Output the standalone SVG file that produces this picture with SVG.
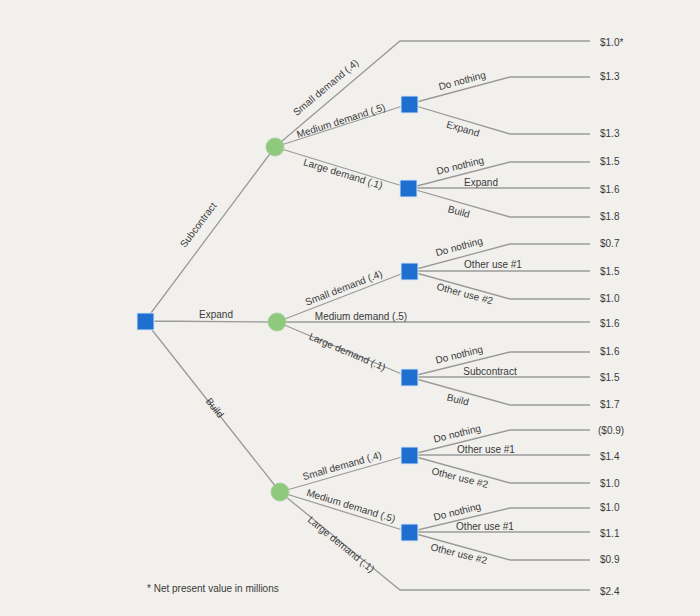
<svg xmlns="http://www.w3.org/2000/svg" width="700" height="616" viewBox="0 0 700 616">
<style>
.l{stroke:#9a9a9a;stroke-width:1.3;fill:none}
.t{font-family:"Liberation Sans",Arial,sans-serif;font-size:10px;fill:#3a3a3a;text-anchor:middle}
.v{font-family:"Liberation Sans",Arial,sans-serif;font-size:10px;fill:#3a3a3a}
.d{fill:#1f6fd1;stroke:#d8e6f7;stroke-width:1}
.c{fill:#8ec97e;stroke:#a9cf9d;stroke-width:1}
</style>
<rect width="700" height="616" fill="#f1f0ed"/>
<g id="connectors">
<path class="l" d="M145 321 L275 147 M145 321 L277 322 M145 321 L280 492"/>
<path class="l" d="M275 147 L400 41 H590 M275 147 L409 104 M275 147 L409 188"/>
<path class="l" d="M409 104 L510 77 H590 M409 104 L510 134 H590"/>
<path class="l" d="M409 188 L510 162 H590 M409 188 H590 M409 188 L510 217 H590"/>
<path class="l" d="M277 322 L409 271 M277 322 H590 M277 322 L409 377"/>
<path class="l" d="M409 271 L510 244 H590 M409 271 H590 M409 271 L510 299 H590"/>
<path class="l" d="M409 377 L510 352 H590 M409 377 H590 M409 377 L510 405 H590"/>
<path class="l" d="M280 492 L409 455 M280 492 L409 532 M280 492 L400 590 H590"/>
<path class="l" d="M409 455 L510 430 H590 M409 455 H590 M409 455 L510 483 H590"/>
<path class="l" d="M409 532 L510 508 H590 M409 532 H590 M409 532 L510 560 H590"/>
</g>
<g id="labels">
<text class="t" transform="translate(201,227) rotate(-53)">Subcontract</text>
<text class="t" x="216" y="318">Expand</text>
<text class="t" transform="translate(212,410) rotate(52)">Build</text>
<text class="t" transform="translate(328,90) rotate(-40)">Small demand (.4)</text>
<text class="t" transform="translate(342,124) rotate(-17.8)">Medium demand (.5)</text>
<text class="t" transform="translate(342,177) rotate(17)">Large demand (.1)</text>
<text class="t" transform="translate(463,84) rotate(-15)">Do nothing</text>
<text class="t" transform="translate(462,132) rotate(16.5)">Expand</text>
<text class="t" transform="translate(461,169) rotate(-14)">Do nothing</text>
<text class="t" x="481" y="186">Expand</text>
<text class="t" transform="translate(458,215) rotate(15)">Build</text>
<text class="t" transform="translate(345,291) rotate(-21)">Small demand (.4)</text>
<text class="t" x="361" y="320">Medium demand (.5)</text>
<text class="t" transform="translate(346,355) rotate(23)">Large demand (.1)</text>
<text class="t" transform="translate(460,250) rotate(-15)">Do nothing</text>
<text class="t" x="493" y="268">Other use #1</text>
<text class="t" transform="translate(464,297) rotate(15)">Other use #2</text>
<text class="t" transform="translate(460,358) rotate(-14)">Do nothing</text>
<text class="t" x="490" y="375">Subcontract</text>
<text class="t" transform="translate(457,403) rotate(14)">Build</text>
<text class="t" transform="translate(343,469) rotate(-16)">Small demand (.4)</text>
<text class="t" transform="translate(350,509) rotate(17)">Medium demand (.5)</text>
<text class="t" transform="translate(339,547) rotate(39)">Large demand (.1)</text>
<text class="t" transform="translate(458,437) rotate(-14)">Do nothing</text>
<text class="t" x="486" y="453">Other use #1</text>
<text class="t" transform="translate(459,481) rotate(14)">Other use #2</text>
<text class="t" transform="translate(458,515) rotate(-14)">Do nothing</text>
<text class="t" x="485" y="530">Other use #1</text>
<text class="t" transform="translate(458,557) rotate(14)">Other use #2</text>
<text class="v" x="147" y="592">* Net present value in millions</text>
</g>
<g id="values" class="v">
<text class="v" x="600" y="46">$1.0*</text>
<text class="v" x="600" y="80">$1.3</text>
<text class="v" x="600" y="137">$1.3</text>
<text class="v" x="600" y="165">$1.5</text>
<text class="v" x="600" y="193">$1.6</text>
<text class="v" x="600" y="220">$1.8</text>
<text class="v" x="600" y="247">$0.7</text>
<text class="v" x="600" y="275">$1.5</text>
<text class="v" x="600" y="302">$1.0</text>
<text class="v" x="600" y="327">$1.6</text>
<text class="v" x="600" y="355">$1.6</text>
<text class="v" x="600" y="381">$1.5</text>
<text class="v" x="600" y="408">$1.7</text>
<text class="v" x="598" y="434">($0.9)</text>
<text class="v" x="600" y="460">$1.4</text>
<text class="v" x="600" y="487">$1.0</text>
<text class="v" x="600" y="511">$1.0</text>
<text class="v" x="600" y="537">$1.1</text>
<text class="v" x="600" y="563">$0.9</text>
<text class="v" x="600" y="595">$2.4</text>
</g>
<g id="root"><rect class="d" x="137" y="313" width="17" height="17"/></g>
<g id="chance-subcontract"><circle class="c" cx="275" cy="147" r="9"/></g>
<g id="chance-expand"><circle class="c" cx="277" cy="322" r="9"/></g>
<g id="chance-build"><circle class="c" cx="280" cy="492" r="9"/></g>
<g id="dec-s-medium"><rect class="d" x="401" y="96" width="17" height="17"/></g>
<g id="dec-s-large"><rect class="d" x="400" y="180" width="17" height="17"/></g>
<g id="dec-e-small"><rect class="d" x="401" y="263" width="17" height="17"/></g>
<g id="dec-e-large"><rect class="d" x="401" y="369" width="17" height="17"/></g>
<g id="dec-b-small"><rect class="d" x="401" y="447" width="17" height="17"/></g>
<g id="dec-b-medium"><rect class="d" x="401" y="524" width="17" height="17"/></g>
</svg>
